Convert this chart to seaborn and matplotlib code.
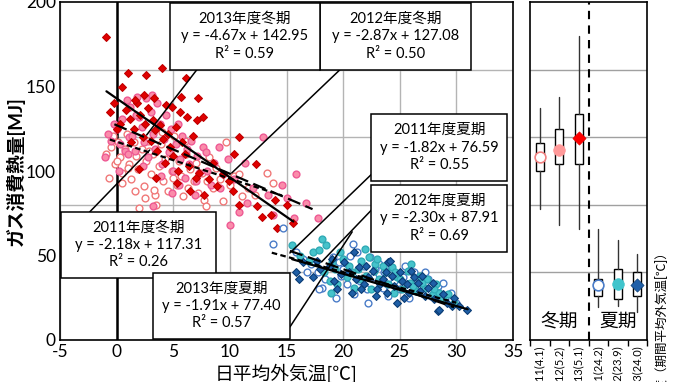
import matplotlib
matplotlib.use("Agg")
import matplotlib.pyplot as plt
import seaborn as sns
import numpy as np
import pandas as pd
from matplotlib.patches import Rectangle

sns.set_theme(style="white")
plt.rcParams['font.family'] = ['Lato', 'Noto Sans CJK JP', 'DejaVu Sans']
plt.rcParams['axes.unicode_minus'] = False
plt.rcParams['text.color'] = 'black'
plt.rcParams['xtick.color'] = 'black'
plt.rcParams['ytick.color'] = 'black'
plt.rcParams['axes.labelcolor'] = 'black'

# ---------------- data ----------------
W11 = [(-0.9,110),(-0.7,96),(-0.5,114),(-0.3,121),(-0.1,104),(0.1,117),(0.3,108),(0.5,99),(0.7,113),(0.9,122),
       (1.1,104),(1.3,95),(1.5,117),(1.7,109),(1.9,101),(2.0,78),(2.2,113),(2.4,91),(2.6,106),(2.8,118),
       (3.0,98),(3.2,110),(3.4,86),(3.5,80),(3.7,103),(3.9,116),(4.1,94),(4.3,107),(4.5,88),(4.7,112),
       (4.9,100),(5.1,121),(5.3,92),(5.5,106),(5.7,97),(5.9,85),(6.1,110),(6.3,90),(6.5,101),(6.8,94),
       (7.0,105),(7.2,87),(7.5,99),(7.7,83),(7.9,79),(8.2,108),(8.5,90),(8.8,102),(9.1,95),(9.4,82),
       (9.7,117),(10.0,92),(10.4,97),(10.8,98),(11.1,85),(11.6,90),(12.2,86),(13.3,99),(13.8,93),(1.0,102),
       (2.5,84),(4.0,123),(6.0,118),(0.0,106),(3.3,89),(1.6,88),(5.0,96),(2.9,112),(0.5,93),(8.0,94)]
W12 = [(-1.0,108),(-0.8,122),(-0.5,118),(-0.2,128),(0.0,125),(0.3,116),(0.5,131),(0.7,112),(0.9,142),(1.1,120),
       (1.2,138),(1.4,121),(1.6,112),(1.8,144),(2.0,132),(2.2,126),(2.4,117),(2.6,143),(2.8,108),(3.0,135),
       (3.1,145),(3.2,122),(3.4,113),(3.6,140),(3.8,128),(4.0,104),(4.2,119),(4.4,133),(4.6,111),(4.8,125),
       (5.0,100),(5.2,116),(5.4,128),(5.6,107),(5.8,121),(6.0,96),(6.2,113),(6.4,104),(6.6,118),(6.9,86),
       (7.1,109),(7.3,99),(7.6,114),(7.9,111),(8.3,92),(8.6,105),(9.0,114),(9.1,90),(9.4,98),(9.8,107),
       (10.0,68),(10.4,95),(10.8,76),(11.3,105),(11.5,81),(12.0,90),(12.9,120),(13.4,86),(13.8,74),(14.6,92),
       (15.0,84),(15.7,72),(15.8,98),(16.7,81),(17.8,72),(3.2,79),(4.9,87),(1.0,110),(2.3,103),(3.9,97),
       (5.5,92),(7.0,94),(8.0,100),(0.2,100),(1.7,133)]
W13 = [(-0.9,179),(-0.6,135),(-0.2,140),(0.5,150),(1.0,158),(2.6,157),(4.0,161),(6.1,155),(5.7,144),(7.2,143),
       (4.9,138),(5.6,135),(6.2,132),(7.1,130),(7.6,132),(0.3,128),(0.8,136),(1.2,131),(1.5,125),(1.8,140),
       (2.1,133),(2.3,120),(2.5,128),(2.8,137),(3.0,118),(3.2,130),(3.4,124),(3.6,112),(3.8,127),(4.1,119),
       (4.3,105),(4.5,122),(4.7,114),(5.0,109),(5.2,126),(5.4,100),(5.8,117),(6.0,110),(6.4,103),(6.7,121),
       (7.0,96),(7.3,99),(7.7,86),(8.2,95),(8.5,105),(9.4,98),(10.3,88),(10.4,110),(10.8,120),(10.8,80),
       (12.3,104),(12.4,79),(12.8,73),(13.6,74),(14.0,83),(14.2,66),(15.0,80),(15.6,69),(2.0,101),(3.5,96),
       (1.3,117),(5.3,93),(6.5,88),(8.9,91),(9.9,94),(1.6,142),(2.4,145),(3.3,143),(4.4,139),(0.0,125)]
S11 = [(13.8,57),(14.7,66),(15.8,52),(16.5,48),(16.8,40),(17.2,45),(17.8,40),(18.1,31),(17.9,30),(18.8,44),
       (19.1,49),(19.4,25),(19.8,38),(20.0,42),(20.6,50),(20.9,57),(21.0,27),(21.2,52),(21.5,35),(22.1,30),
       (22.2,22),(22.6,37),(22.8,42),(23.0,46),(23.2,45),(23.5,31),(23.6,40),(24.0,26),(24.5,35),(24.8,38),
       (25.0,30),(25.5,44),(25.8,25),(26.0,33),(26.2,40),(26.3,40),(27.0,28),(27.5,36),(27.8,26),(28.3,31),
       (28.4,32),(28.8,34),(29.0,25),(29.5,28),(30.0,22),(19.6,46),(21.8,44),(24.2,43),(26.7,35),(22.4,49),
       (25.3,37),(27.2,40),(20.3,33),(18.4,36),(23.9,33)]
S12 = [(15.5,56),(16.2,50),(17.0,47),(17.3,52),(17.9,53),(18.1,60),(18.3,40),(18.5,56),(18.8,35),(18.9,28),
       (19.0,46),(19.5,33),(19.7,52),(20.0,48),(20.3,37),(20.5,44),(21.0,31),(21.3,42),(21.6,47),(21.9,54),
       (22.0,38),(22.3,49),(22.5,30),(22.8,45),(23.0,48),(23.2,36),(23.8,40),(24.0,33),(24.3,43),(24.5,28),
       (24.8,37),(25.2,30),(25.7,41),(25.9,34),(26.0,45),(26.4,29),(26.8,38),(27.2,31),(27.4,36),(27.9,27),
       (28.2,33),(28.5,28),(28.8,24),(29.3,27),(29.8,22),(20.8,40),(23.5,44),(25.0,36),(26.2,32),(27.0,34),
       (24.6,40),(21.5,36),(19.3,42),(28.0,30),(22.7,41)]
S13 = [(15.8,40),(16.1,36),(16.5,46),(17.3,37),(17.7,47),(18.0,42),(18.8,44),(19.0,48),(19.2,35),(19.5,30),
       (20.1,46),(20.5,40),(20.8,28),(21.0,52),(21.1,36),(21.4,43),(21.8,33),(22.2,37),(22.6,41),(22.9,26),
       (23.0,30),(23.5,36),(23.8,40),(24.0,46),(24.1,47),(24.5,32),(24.8,22),(25.0,40),(25.2,35),(25.4,25),
       (25.8,28),(26.0,41),(26.3,37),(26.8,29),(27.2,26),(27.5,31),(27.9,34),(28.0,24),(28.4,17),(28.5,18),
       (28.8,27),(29.2,22),(29.6,20),(29.8,25),(30.2,20),(30.9,18),(22.0,44),(23.3,33),(24.3,38),(25.6,33),
       (26.6,34),(27.0,38),(19.8,39),(21.6,30),(23.9,28)]

# trend lines
TITLES = ["2011年度冬期", "2012年度冬期", "2013年度冬期", "2011年度夏期", "2012年度夏期", "2013年度夏期"]
SLOPES = [-2.18, -2.87, -4.67, -1.82, -2.30, -1.91]
INTERCEPTS = [117.31, 127.08, 142.95, 76.59, 87.91, 77.40]
R2 = [0.26, 0.50, 0.59, 0.55, 0.69, 0.57]
XSTART = [-0.6, -0.2, -0.9, 13.7, 15.3, 15.5]
XEND = [14.6, 17.3, 15.6, 30.0, 29.8, 31.0]

# right panel summary (box) values
CATS = ["2011(4.1)", "2012(5.2)", "2013(5.1)", "2011(24.2)", "2012(23.9)", "2013(24.0)"]
WHIS_HI = [137.2, 143.8, 179.9, 65.7, 59.2, 50.9]
Q3 = [116.6, 124.9, 133.7, 36.1, 42.0, 40.2]
Q1 = [100.0, 104.1, 104.1, 26.0, 24.3, 26.0]
WHIS_LO = [77.5, 68.0, 65.7, 19.5, 20.1, 16.6]
MEANS = [108.3, 112.4, 119.5, 32.5, 33.1, 32.5]

# ---------------- styles ----------------
STY = [
    dict(marker='o', s=24, color='white', edgecolor='#F07878', linewidth=1.0),
    dict(marker='o', s=24, color='#FA8CAA', edgecolor='#EE5A94', linewidth=1.0),
    dict(marker='D', s=16, color='#E00000', edgecolor='#C00000', linewidth=0.8),
    dict(marker='o', s=24, color='white', edgecolor='#4A7CC8', linewidth=1.0),
    dict(marker='o', s=24, color='#45C3CB', edgecolor='#30AAB5', linewidth=1.0),
    dict(marker='D', s=16, color='#1F5FA6', edgecolor='#0B3D75', linewidth=0.8),
]
LS = ['short', 'long', 'solid', 'short', 'long', 'solid']
RSTY = [
    dict(marker='o', s=60, color='white', edgecolor='#F08080', linewidth=1.2),
    dict(marker='o', s=70, color='#FF9999', edgecolor='#FF9999', linewidth=0.5),
    dict(marker='D', s=45, color='#FF0000', edgecolor='#E00000', linewidth=0.5),
    dict(marker='o', s=60, color='white', edgecolor='#4A7CC8', linewidth=1.2),
    dict(marker='o', s=70, color='#40C4CC', edgecolor='#40C4CC', linewidth=0.5),
    dict(marker='D', s=45, color='#1F5FA8', edgecolor='#0B3D75', linewidth=0.5),
]

fig = plt.figure(figsize=(6.8, 3.82), dpi=100)
ax = fig.add_axes([60/680, 42/382, 453/680, 338/382])
axr = fig.add_axes([530/680, 42/382, 117/680, 338/382])

GRID = '#B4B4B4'
# ---------------- left panel ----------------
ax.set_xlim(-5, 35)
ax.set_ylim(0, 200)
ax.set_xticks(np.arange(-5, 36, 5))
ax.set_yticks(np.arange(0, 201, 50))
ax.set_yticks([40, 80, 120, 160], minor=True)
ax.grid(True, which='major', axis='x', color=GRID, lw=1)
ax.grid(True, which='minor', axis='y', color=GRID, lw=1)
ax.grid(False, which='major', axis='y')
ax.tick_params(which='both', length=0, labelsize=12.5, pad=3)
ax.axvline(0, color='black', lw=1.8, zorder=1.5)

for pts, st in zip([W11, W12, W13, S11, S12, S13], STY):
    df = pd.DataFrame(pts, columns=['t', 'g'])
    sns.scatterplot(data=df, x='t', y='g', ax=ax, legend=False, zorder=3, **st)

for i in range(6):
    xs = np.array([XSTART[i], XEND[i]])
    ys = SLOPES[i] * xs + INTERCEPTS[i]
    line, = ax.plot(xs, ys, color='black', lw=1.6, zorder=4)
    if LS[i] == 'short':
        line.set_dashes((2.5, 1.5))
    elif LS[i] == 'long':
        line.set_dashes((6, 2.5))

# label boxes (x0, x1, y0, y1) in data coordinates, and leader lines
BOXES = [(-4.9, 8.8, 36.5, 75.9), (18.0, 31.3, 159.8, 199.4), (4.68, 17.93, 159.8, 199.4),
         (22.5, 34.5, 94.1, 133.7), (22.5, 34.5, 52.1, 91.7), (3.2, 15.3, 0.3, 39.8)]
LEADERS = [((-2.39, 75.7), (2.92, 112.4)), ((19.7, 159.8), (10.16, 98.8)), ((7.07, 159.8), (2.65, 121.3)),
           ((22.5, 98.0), (15.3, 51.5)), ((22.5, 76.9), (18.1, 46.2)), ((15.3, 7.7), (20.8, 64.0))]
for i in range(6):
    (a, b) = LEADERS[i]
    ax.plot([a[0], b[0]], [a[1], b[1]], color='black', lw=1.1, zorder=5)
for i in range(6):
    x0, x1, y0, y1 = BOXES[i]
    ax.add_patch(Rectangle((x0, y0), x1 - x0, y1 - y0, facecolor='white', edgecolor='black', lw=1.1, zorder=6))
    txt = f"{TITLES[i]}\ny = {SLOPES[i]:.2f}x + {INTERCEPTS[i]:.2f}\nR² = {R2[i]:.2f}"
    ax.text((x0 + x1) / 2, (y0 + y1) / 2, txt, ha='center', va='center', fontsize=10.5,
            linespacing=1.3, zorder=7)

for sp in ax.spines.values():
    sp.set_color('black')
    sp.set_linewidth(1.2)
    sp.set_zorder(8)

ax.set_xlabel("日平均外気温[℃]", fontsize=13.5)
ax.set_ylabel("ガス消費熱量[MJ]", fontsize=13.5, fontweight='bold')
ax.xaxis.set_label_coords(0.5, -0.07)
ax.yaxis.set_label_coords(-0.078, 0.5)

# ---------------- right panel ----------------
pos = np.arange(6) + 0.5
stats = []
for i in range(6):
    stats.append(dict(med=MEANS[i], q1=Q1[i], q3=Q3[i], whislo=WHIS_LO[i], whishi=WHIS_HI[i],
                      fliers=[], label=CATS[i]))
axr.bxp(stats, positions=pos, widths=0.42, patch_artist=True, showcaps=False, showfliers=False,
        boxprops=dict(facecolor='white', edgecolor='black', linewidth=1),
        whiskerprops=dict(color='#333333', linewidth=1),
        medianprops=dict(linewidth=0), manage_ticks=False, zorder=3)
for i in range(6):
    sns.scatterplot(x=[pos[i]], y=[MEANS[i]], ax=axr, legend=False, zorder=4, **RSTY[i])

axr.set_xlim(0, 6)
axr.set_ylim(0, 200)
axr.set_yticks([40, 80, 120, 160])
axr.set_yticklabels([])
axr.grid(True, axis='y', color='#A0A0A0', lw=1)
axr.set_xticks(pos)
axr.set_xticklabels(CATS, rotation=90, fontsize=8)
axr.set_xticks(np.arange(0, 7), minor=True)
axr.tick_params(axis='x', which='major', length=0, pad=4)
axr.tick_params(axis='x', which='minor', length=4, direction='out', color='black', bottom=True)
axr.tick_params(axis='y', length=0)
axr.axvline(3, color='black', lw=1.5, dashes=(4, 3), zorder=5)
axr.text(1.5, 11, "冬期", ha='center', va='center', fontsize=13.5)
axr.text(4.5, 11, "夏期", ha='center', va='center', fontsize=13.5)
axr.set_xlabel("")
axr.set_ylabel("")
for sp in axr.spines.values():
    sp.set_color('black')
    sp.set_linewidth(1.2)

fig.text(661/680, 1 - 245/382, "年度（期間平均外気温[℃]）", rotation=90, ha='center', va='top', fontsize=9)

fig.savefig("out.png", dpi=100)
